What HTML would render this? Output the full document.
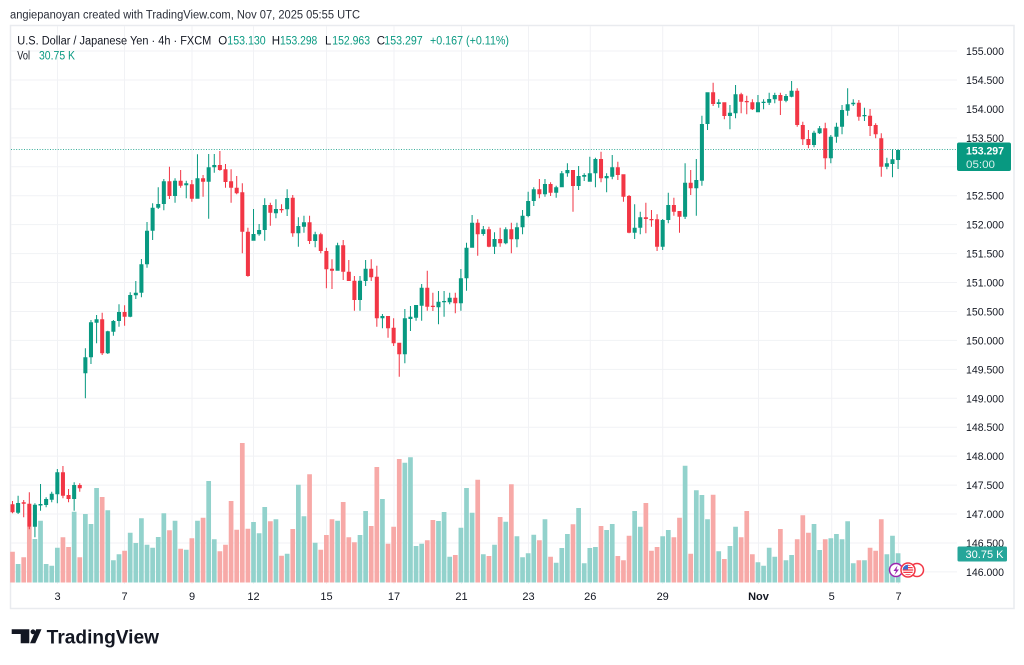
<!DOCTYPE html>
<html><head><meta charset="utf-8"><style>
html,body{margin:0;padding:0;background:#fff;}
svg{display:block;font-family:"Liberation Sans",Arial,sans-serif;}
</style></head><body>
<svg width="1024" height="665" viewBox="0 0 1024 665" xmlns="http://www.w3.org/2000/svg">
<rect width="1024" height="665" fill="#fff"/>
<rect x="10.5" y="25.5" width="1003.5" height="583" fill="none" stroke="#e9ebef" stroke-width="1.5"/>
<g stroke="#f1f2f5" stroke-width="1">
<path d="M11 51H957M11 79.94H957M11 108.88H957M11 137.82H957M11 166.76H957M11 195.7H957M11 224.64H957M11 253.58H957M11 282.52H957M11 311.46H957M11 340.4H957M11 369.34H957M11 398.28H957M11 427.22H957M11 456.16H957M11 485.1H957M11 514.04H957M11 542.98H957M11 571.92H957"/>
<path d="M57.5 26V584M124.5 26V584M192 26V584M253.5 26V584M326.5 26V584M394 26V584M461.5 26V584M528.5 26V584M590.3 26V584M662.7 26V584M758.5 26V584M831.7 26V584M898.5 26V584"/>
</g>
<text x="10" y="18.5" font-size="11.5" fill="#2a2e39" textLength="350" lengthAdjust="spacingAndGlyphs">angiepanoyan created with TradingView.com, Nov 07, 2025 05:55 UTC</text>
<g font-size="11.5" fill="#131722">
<text x="17.3" y="44.5" textLength="194" lengthAdjust="spacingAndGlyphs">U.S. Dollar / Japanese Yen · 4h · FXCM</text>
<text x="218.3" y="44.5">O</text><text x="227.3" y="44.5" fill="#089981" textLength="38.4" lengthAdjust="spacingAndGlyphs">153.130</text>
<text x="271.7" y="44.5">H</text><text x="280" y="44.5" fill="#089981" textLength="37.3" lengthAdjust="spacingAndGlyphs">153.298</text>
<text x="325" y="44.5">L</text><text x="332.3" y="44.5" fill="#089981" textLength="37.7" lengthAdjust="spacingAndGlyphs">152.963</text>
<text x="376.7" y="44.5">C</text><text x="384.3" y="44.5" fill="#089981" textLength="38.4" lengthAdjust="spacingAndGlyphs">153.297</text>
<text x="430" y="44.5" fill="#089981" textLength="79" lengthAdjust="spacingAndGlyphs">+0.167 (+0.11%)</text>
<text x="17.3" y="59.5" textLength="12.7" lengthAdjust="spacingAndGlyphs">Vol</text>
<text x="39" y="59.5" fill="#089981" textLength="36" lengthAdjust="spacingAndGlyphs">30.75 K</text>
</g>
<g transform="translate(12.5 0) scale(5.605 1)">
<path fill="#92d2cc" d="M.58 564V582.5h.84V564zM3.58 539V582.5h.84V539zM4.58 520.7V582.5h.84V520.7zM5.58 564V582.5h.84V564zM6.58 565.7V582.5h.84V565.7zM7.58 547.7V582.5h.84V547.7zM10.58 511.7V582.5h.84V511.7zM12.58 514V582.5h.84V514zM13.58 524V582.5h.84V524zM14.58 488V582.5h.84V488zM16.58 510.3V582.5h.84V510.3zM17.58 560.3V582.5h.84V560.3zM18.58 554.3V582.5h.84V554.3zM20.58 532.7V582.5h.84V532.7zM21.58 543V582.5h.84V543zM22.58 518.3V582.5h.84V518.3zM23.58 544.7V582.5h.84V544.7zM24.58 547.7V582.5h.84V547.7zM25.58 537V582.5h.84V537zM26.58 513.3V582.5h.84V513.3zM28.58 520.7V582.5h.84V520.7zM30.58 549.7V582.5h.84V549.7zM32.58 520.7V582.5h.84V520.7zM34.58 481V582.5h.84V481zM35.58 539.3V582.5h.84V539.3zM42.58 522V582.5h.84V522zM43.58 533.3V582.5h.84V533.3zM44.58 507V582.5h.84V507zM46.58 519.3V582.5h.84V519.3zM48.58 553.7V582.5h.84V553.7zM50.58 484.7V582.5h.84V484.7zM51.58 516.3V582.5h.84V516.3zM53.58 542.7V582.5h.84V542.7zM57.58 520.7V582.5h.84V520.7zM61.58 535V582.5h.84V535zM62.58 511V582.5h.84V511zM65.58 499V582.5h.84V499zM69.58 462.7V582.5h.84V462.7zM70.58 457.3V582.5h.84V457.3zM71.58 546V582.5h.84V546zM72.58 543.7V582.5h.84V543.7zM75.58 521V582.5h.84V521zM76.58 512V582.5h.84V512zM77.58 556.7V582.5h.84V556.7zM79.58 527.7V582.5h.84V527.7zM80.58 488V582.5h.84V488zM81.58 512.7V582.5h.84V512.7zM83.58 554.3V582.5h.84V554.3zM85.58 544.7V582.5h.84V544.7zM87.58 521.7V582.5h.84V521.7zM89.58 536.3V582.5h.84V536.3zM90.58 557.3V582.5h.84V557.3zM91.58 553.3V582.5h.84V553.3zM92.58 534.7V582.5h.84V534.7zM94.58 519.3V582.5h.84V519.3zM96.58 562.7V582.5h.84V562.7zM97.58 548V582.5h.84V548zM98.58 534V582.5h.84V534zM100.58 508V582.5h.84V508zM101.58 563.3V582.5h.84V563.3zM102.58 548V582.5h.84V548zM103.58 547V582.5h.84V547zM105.58 530V582.5h.84V530zM106.58 524V582.5h.84V524zM110.58 511V582.5h.84V511zM111.58 526.7V582.5h.84V526.7zM115.58 536.3V582.5h.84V536.3zM116.58 530V582.5h.84V530zM119.58 465.7V582.5h.84V465.7zM121.58 490.3V582.5h.84V490.3zM122.58 495V582.5h.84V495zM123.58 519.3V582.5h.84V519.3zM125.58 551.3V582.5h.84V551.3zM127.58 546V582.5h.84V546zM128.58 526.7V582.5h.84V526.7zM132.58 562.3V582.5h.84V562.3zM133.58 565.7V582.5h.84V565.7zM134.58 547.7V582.5h.84V547.7zM135.58 556.7V582.5h.84V556.7zM137.58 560.3V582.5h.84V560.3zM138.58 555V582.5h.84V555zM142.58 524V582.5h.84V524zM143.58 550V582.5h.84V550zM145.58 538.3V582.5h.84V538.3zM146.58 534V582.5h.84V534zM147.58 539.3V582.5h.84V539.3zM148.58 521.3V582.5h.84V521.3zM149.58 563.3V582.5h.84V563.3zM151.58 560.3V582.5h.84V560.3zM155.58 554.3V582.5h.84V554.3zM156.58 535.7V582.5h.84V535.7zM157.58 553.3V582.5h.84V553.3z"/>
<path fill="#f7a9a7" d="M-.42 551.7V582.5h.84V551.7zM1.58 557.3V582.5h.84V557.3zM2.58 526.7V582.5h.84V526.7zM8.58 537.3V582.5h.84V537.3zM9.58 547V582.5h.84V547zM11.58 557.3V582.5h.84V557.3zM15.58 497V582.5h.84V497zM19.58 550.7V582.5h.84V550.7zM27.58 530.3V582.5h.84V530.3zM29.58 548.7V582.5h.84V548.7zM31.58 538.3V582.5h.84V538.3zM33.58 517.7V582.5h.84V517.7zM36.58 551.3V582.5h.84V551.3zM37.58 544.7V582.5h.84V544.7zM38.58 501V582.5h.84V501zM39.58 529.7V582.5h.84V529.7zM40.58 443V582.5h.84V443zM41.58 528.7V582.5h.84V528.7zM45.58 521.3V582.5h.84V521.3zM47.58 555.7V582.5h.84V555.7zM49.58 529V582.5h.84V529zM52.58 474.3V582.5h.84V474.3zM54.58 549.7V582.5h.84V549.7zM55.58 535V582.5h.84V535zM56.58 519.3V582.5h.84V519.3zM58.58 502V582.5h.84V502zM59.58 537.3V582.5h.84V537.3zM60.58 542.3V582.5h.84V542.3zM63.58 526V582.5h.84V526zM64.58 467V582.5h.84V467zM66.58 543.7V582.5h.84V543.7zM67.58 526.7V582.5h.84V526.7zM68.58 459V582.5h.84V459zM73.58 540.3V582.5h.84V540.3zM74.58 520V582.5h.84V520zM78.58 555V582.5h.84V555zM82.58 479.7V582.5h.84V479.7zM84.58 556V582.5h.84V556zM86.58 517V582.5h.84V517zM88.58 484.3V582.5h.84V484.3zM93.58 540.3V582.5h.84V540.3zM95.58 556.7V582.5h.84V556.7zM99.58 524.3V582.5h.84V524.3zM104.58 526V582.5h.84V526zM107.58 556V582.5h.84V556zM108.58 560.3V582.5h.84V560.3zM109.58 535.7V582.5h.84V535.7zM112.58 503V582.5h.84V503zM113.58 550.7V582.5h.84V550.7zM114.58 547V582.5h.84V547zM117.58 537.3V582.5h.84V537.3zM118.58 517.7V582.5h.84V517.7zM120.58 553.7V582.5h.84V553.7zM124.58 494.7V582.5h.84V494.7zM126.58 559V582.5h.84V559zM129.58 537.3V582.5h.84V537.3zM130.58 511V582.5h.84V511zM131.58 554.3V582.5h.84V554.3zM136.58 529V582.5h.84V529zM139.58 539.3V582.5h.84V539.3zM140.58 515.3V582.5h.84V515.3zM141.58 532.7V582.5h.84V532.7zM144.58 539.3V582.5h.84V539.3zM150.58 560.3V582.5h.84V560.3zM152.58 547.7V582.5h.84V547.7zM153.58 550.7V582.5h.84V550.7zM154.58 519.3V582.5h.84V519.3z"/>
<path fill="#089981" d="M.91 495.7h.18V514h-.18zM.64 503h.72V512.7h-.72zM3.91 503.3h.18V537.3h-.18zM3.64 504.7h.72V526.7h-.72zM4.91 484h.18V510.7h-.18zM4.64 504h.72V505.5h-.72zM5.91 497.3h.18V507.3h-.18zM5.64 499h.72V505h-.72zM6.91 491.7h.18V502.3h-.18zM6.64 493.7h.72V499.7h-.72zM7.91 469h.18V503.3h-.18zM7.64 472.3h.72V494.3h-.72zM10.91 482.3h.18V510.7h-.18zM10.64 485h.72V499h-.72zM12.91 348.3h.18V398.3h-.18zM12.64 357.3h.72V373.3h-.72zM13.91 320h.18V364h-.18zM13.64 322.3h.72V357.3h-.72zM14.91 315h.18V343.3h-.18zM14.64 319.3h.72V322.7h-.72zM16.91 330.7h.18V354h-.18zM16.64 331.3h.72V353.3h-.72zM17.91 320h.18V335.7h-.18zM17.64 321h.72V331.7h-.72zM18.91 304.3h.18V326.7h-.18zM18.64 312h.72V321h-.72zM20.91 292.3h.18V317.3h-.18zM20.64 295h.72V316.7h-.72zM21.91 281h.18V299h-.18zM21.64 292.7h.72V295.3h-.72zM22.91 259h.18V297.3h-.18zM22.64 264.3h.72V292.7h-.72zM23.91 222h.18V267.7h-.18zM23.64 230.7h.72V264.3h-.72zM24.91 203.3h.18V240h-.18zM24.64 207.7h.72V230.7h-.72zM25.91 187.3h.18V209h-.18zM25.64 204h.72V207.7h-.72zM26.91 179h.18V210.3h-.18zM26.64 181.3h.72V204h-.72zM28.91 178.3h.18V202.7h-.18zM28.64 180.7h.72V196h-.72zM30.91 180.7h.18V198.3h-.18zM30.64 183.3h.72V185.3h-.72zM32.91 154.3h.18V198.7h-.18zM32.64 178.3h.72V198.7h-.72zM34.91 154h.18V218.7h-.18zM34.64 167.3h.72V181.7h-.72zM35.91 154h.18V172.7h-.18zM35.64 165h.72V167.3h-.72zM42.91 209h.18V240.7h-.18zM42.64 234h.72V240.7h-.72zM43.91 224h.18V235.7h-.18zM43.64 230h.72V234.3h-.72zM44.91 198.3h.18V240.7h-.18zM44.64 205h.72V230h-.72zM46.91 199.3h.18V218.3h-.18zM46.64 209h.72V213.3h-.72zM48.91 189.3h.18V216h-.18zM48.64 198h.72V209.3h-.72zM50.91 217.3h.18V246.7h-.18zM50.64 226h.72V233.3h-.72zM51.91 215.7h.18V232.7h-.18zM51.64 222.3h.72V226.7h-.72zM53.91 231.7h.18V247.3h-.18zM53.64 234.3h.72V241h-.72zM57.91 242.7h.18V270.7h-.18zM57.64 245.3h.72V270.7h-.72zM61.91 276h.18V310.7h-.18zM61.64 280.7h.72V300h-.72zM62.91 260h.18V286h-.18zM62.64 268.7h.72V281h-.72zM65.91 314h.18V328.3h-.18zM65.64 316h.72V318.3h-.72zM69.91 309h.18V363.3h-.18zM69.64 318.3h.72V354.3h-.72zM70.91 306h.18V331h-.18zM70.64 316.7h.72V319h-.72zM71.91 305h.18V320.7h-.18zM71.64 305h.72V317.7h-.72zM72.91 284h.18V320.7h-.18zM72.64 287.7h.72V305.7h-.72zM75.91 291h.18V324.3h-.18zM75.64 301.7h.72V307.3h-.72zM76.91 291h.18V316.7h-.18zM76.64 301h.72V302.3h-.72zM77.91 292.7h.18V304.3h-.18zM77.64 297.7h.72V302.3h-.72zM79.91 269h.18V310.7h-.18zM79.64 278.3h.72V303.3h-.72zM80.91 242.7h.18V290.7h-.18zM80.64 247.7h.72V278.3h-.72zM81.91 215h.18V247.7h-.18zM81.64 222.7h.72V247.7h-.72zM83.91 226h.18V235.7h-.18zM83.64 229.3h.72V234h-.72zM85.91 232.3h.18V254h-.18zM85.64 239h.72V246.7h-.72zM87.91 227.3h.18V244.3h-.18zM87.64 229.3h.72V243.3h-.72zM89.91 222.7h.18V247.3h-.18zM89.64 227.3h.72V239.3h-.72zM90.91 210h.18V234.3h-.18zM90.64 215.7h.72V227.3h-.72zM91.91 191.7h.18V217.3h-.18zM91.64 201h.72V216h-.72zM92.91 187.3h.18V206h-.18zM92.64 189.3h.72V201h-.72zM94.91 179h.18V196.7h-.18zM94.64 184h.72V194.3h-.72zM96.91 185.7h.18V197.7h-.18zM96.64 187.3h.72V192.7h-.72zM97.91 171h.18V187.3h-.18zM97.64 173.3h.72V187.3h-.72zM98.91 163.3h.18V176.7h-.18zM98.64 170h.72V173.3h-.72zM100.91 166h.18V190h-.18zM100.64 176h.72V186h-.72zM101.91 173.3h.18V181h-.18zM101.64 175h.72V176.7h-.72zM102.91 156.7h.18V181.7h-.18zM102.64 173.3h.72V181.7h-.72zM103.91 157.7h.18V187.3h-.18zM103.64 159h.72V173.3h-.72zM105.91 173.3h.18V192.3h-.18zM105.64 176h.72V178.3h-.72zM106.91 155h.18V179.3h-.18zM106.64 167.3h.72V176.7h-.72zM110.91 204.3h.18V239h-.18zM110.64 227.7h.72V232.7h-.72zM111.91 211.7h.18V234.3h-.18zM111.64 217.3h.72V227.7h-.72zM115.91 219h.18V250h-.18zM115.64 220h.72V246.7h-.72zM116.91 192.7h.18V223.3h-.18zM116.64 205h.72V220h-.72zM119.91 163.3h.18V219h-.18zM119.64 182.7h.72V216.7h-.72zM121.91 159h.18V215.7h-.18zM121.64 180h.72V188.3h-.72zM122.91 115.7h.18V185.7h-.18zM122.64 124h.72V180.7h-.72zM123.91 92.3h.18V130h-.18zM123.64 92.3h.72V124h-.72zM125.91 99.3h.18V107.7h-.18zM125.64 102.3h.72V104h-.72zM127.91 105h.18V129.3h-.18zM127.64 112.7h.72V116h-.72zM128.91 85h.18V118.3h-.18zM128.64 94.3h.72V113.3h-.72zM132.91 95h.18V112.3h-.18zM132.64 102.3h.72V112.3h-.72zM133.91 99.3h.18V109.3h-.18zM133.64 101.7h.72V103h-.72zM134.91 92.7h.18V105h-.18zM134.64 99h.72V102.7h-.72zM135.91 92.7h.18V103.3h-.18zM135.64 95h.72V99.3h-.72zM137.91 94h.18V102.3h-.18zM137.64 96h.72V100.7h-.72zM138.91 81h.18V97.3h-.18zM138.64 90.7h.72V96.7h-.72zM142.91 130.7h.18V147.3h-.18zM142.64 132.7h.72V145h-.72zM143.91 126h.18V134h-.18zM143.64 128.3h.72V133.3h-.72zM145.91 135h.18V163.3h-.18zM145.64 136.7h.72V158.3h-.72zM146.91 122.7h.18V142.7h-.18zM146.64 126.7h.72V136.7h-.72zM147.91 105h.18V134.3h-.18zM147.64 110h.72V126.7h-.72zM148.91 88.3h.18V115.7h-.18zM148.64 104.3h.72V110.7h-.72zM149.91 99.3h.18V106h-.18zM149.64 102.7h.72V104.3h-.72zM151.91 107.7h.18V121h-.18zM151.64 115h.72V116.3h-.72zM155.91 157.7h.18V169.3h-.18zM155.64 163.3h.72V166.7h-.72zM156.91 149.3h.18V177.3h-.18zM156.64 159.3h.72V164h-.72zM157.91 149.3h.18V169h-.18zM157.64 150h.72V160h-.72z"/>
<path fill="#f23645" d="M-.09 501h.18V513.3h-.18zM-.36 504.3h.72V512.3h-.72zM1.91 500h.18V517.3h-.18zM1.64 502.3h.72V503.7h-.72zM2.91 492.3h.18V529.3h-.18zM2.64 503.7h.72V526.7h-.72zM8.91 466h.18V498.3h-.18zM8.64 472.3h.72V495.7h-.72zM9.91 489h.18V502.3h-.18zM9.64 495h.72V499h-.72zM11.91 483.3h.18V491.7h-.18zM11.64 485h.72V488.3h-.72zM15.91 312.7h.18V355h-.18zM15.64 319.3h.72V353.3h-.72zM19.91 305.3h.18V325.7h-.18zM19.64 312h.72V316.7h-.72zM27.91 166.7h.18V199h-.18zM27.64 181.3h.72V196h-.72zM29.91 170h.18V187.7h-.18zM29.64 180.7h.72V185.7h-.72zM31.91 180h.18V201.7h-.18zM31.64 184.3h.72V198.7h-.72zM33.91 175h.18V196.7h-.18zM33.64 178.3h.72V181.7h-.72zM36.91 151h.18V170.7h-.18zM36.64 165h.72V170h-.72zM37.91 164h.18V187.7h-.18zM37.64 169.3h.72V182h-.72zM38.91 169.3h.18V202.7h-.18zM38.64 181.3h.72V187.7h-.72zM39.91 176h.18V194.3h-.18zM39.64 187.7h.72V193.3h-.72zM40.91 183.3h.18V253.3h-.18zM40.64 192.3h.72V231.7h-.72zM41.91 227.7h.18V276.7h-.18zM41.64 231.7h.72V276h-.72zM45.91 202.7h.18V225.7h-.18zM45.64 205h.72V212.7h-.72zM47.91 204.3h.18V212.7h-.18zM47.64 209h.72V210.3h-.72zM49.91 195h.18V236.7h-.18zM49.64 197.7h.72V233.3h-.72zM52.91 215.7h.18V244h-.18zM52.64 222.3h.72V241h-.72zM54.91 232.7h.18V253.3h-.18zM54.64 234.3h.72V251h-.72zM55.91 247.7h.18V288.3h-.18zM55.64 251h.72V269.3h-.72zM56.91 259.3h.18V289h-.18zM56.64 268.7h.72V270.7h-.72zM58.91 240h.18V280h-.18zM58.64 245.3h.72V271.7h-.72zM59.91 260h.18V281h-.18zM59.64 271.7h.72V281h-.72zM60.91 276h.18V310.7h-.18zM60.64 280.7h.72V300h-.72zM63.91 259.3h.18V281h-.18zM63.64 268.7h.72V277.3h-.72zM64.91 265.7h.18V326.7h-.18zM64.64 276.7h.72V318.3h-.72zM66.91 316h.18V337.7h-.18zM66.64 316h.72V328.3h-.72zM67.91 318.3h.18V346h-.18zM67.64 327.7h.72V343.3h-.72zM68.91 342.7h.18V376.7h-.18zM68.64 342.7h.72V354.3h-.72zM73.91 270.7h.18V310.7h-.18zM73.64 287.7h.72V306.7h-.72zM74.91 292.7h.18V311h-.18zM74.64 305.7h.72V307h-.72zM78.91 292.7h.18V313.3h-.18zM78.64 297.7h.72V303.3h-.72zM82.91 219.3h.18V255.7h-.18zM82.64 222.7h.72V234.3h-.72zM84.91 226.7h.18V247.3h-.18zM84.64 229.3h.72V246.7h-.72zM86.91 227.7h.18V246.7h-.18zM86.64 239h.72V243.3h-.72zM88.91 222.7h.18V253.3h-.18zM88.64 229.3h.72V239.3h-.72zM93.91 179h.18V198.3h-.18zM93.64 189.3h.72V194.3h-.72zM95.91 182.3h.18V196h-.18zM95.64 184h.72V192.7h-.72zM99.91 170h.18V211.7h-.18zM99.64 170h.72V186h-.72zM104.91 151.7h.18V182.3h-.18zM104.64 159h.72V178.3h-.72zM107.91 161.7h.18V180h-.18zM107.64 167.3h.72V175h-.72zM108.91 174.3h.18V201.7h-.18zM108.64 174.3h.72V196.7h-.72zM109.91 195h.18V233.3h-.18zM109.64 196h.72V232.7h-.72zM112.91 202.7h.18V233.3h-.18zM112.64 217.3h.72V219h-.72zM113.91 210h.18V226.7h-.18zM113.64 219h.72V220.2h-.72zM114.91 214.3h.18V251h-.18zM114.64 219.3h.72V246.7h-.72zM117.91 197.7h.18V215.7h-.18zM117.64 205h.72V211.7h-.72zM118.91 211h.18V232.7h-.18zM118.64 211h.72V216.7h-.72zM120.91 170h.18V195h-.18zM120.64 182.7h.72V188.3h-.72zM124.91 82.7h.18V106h-.18zM124.64 92.3h.72V104h-.72zM126.91 102.3h.18V119.3h-.18zM126.64 102.3h.72V116h-.72zM129.91 92.7h.18V113.3h-.18zM129.64 94.3h.72V101.7h-.72zM130.91 95.7h.18V114.3h-.18zM130.64 101h.72V102.3h-.72zM131.91 99.3h.18V110h-.18zM131.64 102.3h.72V109.3h-.72zM136.91 92.7h.18V115h-.18zM136.64 95h.72V100.7h-.72zM139.91 88.3h.18V126.7h-.18zM139.64 90.7h.72V125h-.72zM140.91 121.7h.18V145h-.18zM140.64 125h.72V139.3h-.72zM141.91 130h.18V148.3h-.18zM141.64 139h.72V145h-.72zM144.91 122.7h.18V169.3h-.18zM144.64 128.3h.72V158.3h-.72zM150.91 100h.18V120.7h-.18zM150.64 102.7h.72V116.7h-.72zM152.91 109h.18V136h-.18zM152.64 115.7h.72V126h-.72zM153.91 123.3h.18V138.3h-.18zM153.64 125h.72V134.3h-.72zM154.91 133.3h.18V176.7h-.18zM154.64 138.3h.72V166.7h-.72z"/>
</g>
<path d="M11 149.5H957" stroke="#089981" stroke-opacity=".8" stroke-width="1" stroke-dasharray="1 1.6"/>
<g font-size="11" fill="#131722">
<text x="966" y="55" textLength="38" lengthAdjust="spacingAndGlyphs">155.000</text>
<text x="966" y="84" textLength="38" lengthAdjust="spacingAndGlyphs">154.500</text>
<text x="966" y="113" textLength="38" lengthAdjust="spacingAndGlyphs">154.000</text>
<text x="966" y="141.8" textLength="38" lengthAdjust="spacingAndGlyphs">153.500</text>
<text x="966" y="199.7" textLength="38" lengthAdjust="spacingAndGlyphs">152.500</text>
<text x="966" y="228.6" textLength="38" lengthAdjust="spacingAndGlyphs">152.000</text>
<text x="966" y="257.6" textLength="38" lengthAdjust="spacingAndGlyphs">151.500</text>
<text x="966" y="286.5" textLength="38" lengthAdjust="spacingAndGlyphs">151.000</text>
<text x="966" y="315.5" textLength="38" lengthAdjust="spacingAndGlyphs">150.500</text>
<text x="966" y="344.4" textLength="38" lengthAdjust="spacingAndGlyphs">150.000</text>
<text x="966" y="373.3" textLength="38" lengthAdjust="spacingAndGlyphs">149.500</text>
<text x="966" y="402.3" textLength="38" lengthAdjust="spacingAndGlyphs">149.000</text>
<text x="966" y="431.2" textLength="38" lengthAdjust="spacingAndGlyphs">148.500</text>
<text x="966" y="460.2" textLength="38" lengthAdjust="spacingAndGlyphs">148.000</text>
<text x="966" y="489.1" textLength="38" lengthAdjust="spacingAndGlyphs">147.500</text>
<text x="966" y="518" textLength="38" lengthAdjust="spacingAndGlyphs">147.000</text>
<text x="966" y="547" textLength="38" lengthAdjust="spacingAndGlyphs">146.500</text>
<text x="966" y="575.9" textLength="38" lengthAdjust="spacingAndGlyphs">146.000</text>
</g>
<rect x="957" y="142.5" width="54" height="28.5" rx="2" fill="#089981"/>
<text x="966" y="154.5" font-size="11" font-weight="bold" fill="#fff" textLength="38" lengthAdjust="spacingAndGlyphs">153.297</text>
<text x="966" y="168" font-size="11" fill="#fff" fill-opacity=".85" textLength="29" lengthAdjust="spacingAndGlyphs">05:00</text>
<rect x="957.5" y="546.5" width="49.5" height="15" rx="1.5" fill="#26a69a"/>
<text x="965.5" y="558" font-size="11" fill="#fff" textLength="38" lengthAdjust="spacingAndGlyphs">30.75 K</text>
<g font-size="11" fill="#131722" text-anchor="middle">
<text x="57.5" y="600">3</text>
<text x="124.5" y="600">7</text>
<text x="192" y="600">9</text>
<text x="253.5" y="600">12</text>
<text x="326.5" y="600">15</text>
<text x="394" y="600">17</text>
<text x="461.5" y="600">21</text>
<text x="528.5" y="600">23</text>
<text x="590.3" y="600">26</text>
<text x="662.7" y="600">29</text>
<text x="758.5" y="600" font-weight="bold">Nov</text>
<text x="831.7" y="600">5</text>
<text x="898.5" y="600">7</text>
</g>
<circle cx="896" cy="570" r="6.5" fill="#fff" stroke="#9c27b0" stroke-width="1.5"/>
<path d="M897.5 565.5L893.5 571h2.5l-1.5 4 4.5-5.5h-2.5z" fill="#9c27b0"/>
<circle cx="917" cy="570" r="6.5" fill="#fff" stroke="#f23645" stroke-width="1.5"/>
<circle cx="908" cy="570" r="7" fill="#fff" stroke="#f23645" stroke-width="1.5"/>
<clipPath id="fc"><circle cx="908" cy="570" r="5.3"/></clipPath>
<g clip-path="url(#fc)">
<rect x="902" y="564" width="12" height="12" fill="#fff"/>
<path d="M902 565.2h12M902 567.6h12M902 570h12M902 572.4h12M902 574.8h12" stroke="#f23645" stroke-width="1.2"/>
<rect x="902" y="564" width="6" height="5.5" fill="#3c6ed1"/>
</g>
<g fill="#131722">
<path d="M11.7 629.3H29.3V643.3H20.7V634H11.7Z"/>
<circle cx="33" cy="631.8" r="2.4"/>
<path d="M36.2 629.3H41.5L35.3 643.3H30Z"/>
<text x="46.7" y="643.3" font-size="19" font-weight="bold" textLength="112.3" lengthAdjust="spacingAndGlyphs">TradingView</text>
</g>
</svg>
</body></html>
